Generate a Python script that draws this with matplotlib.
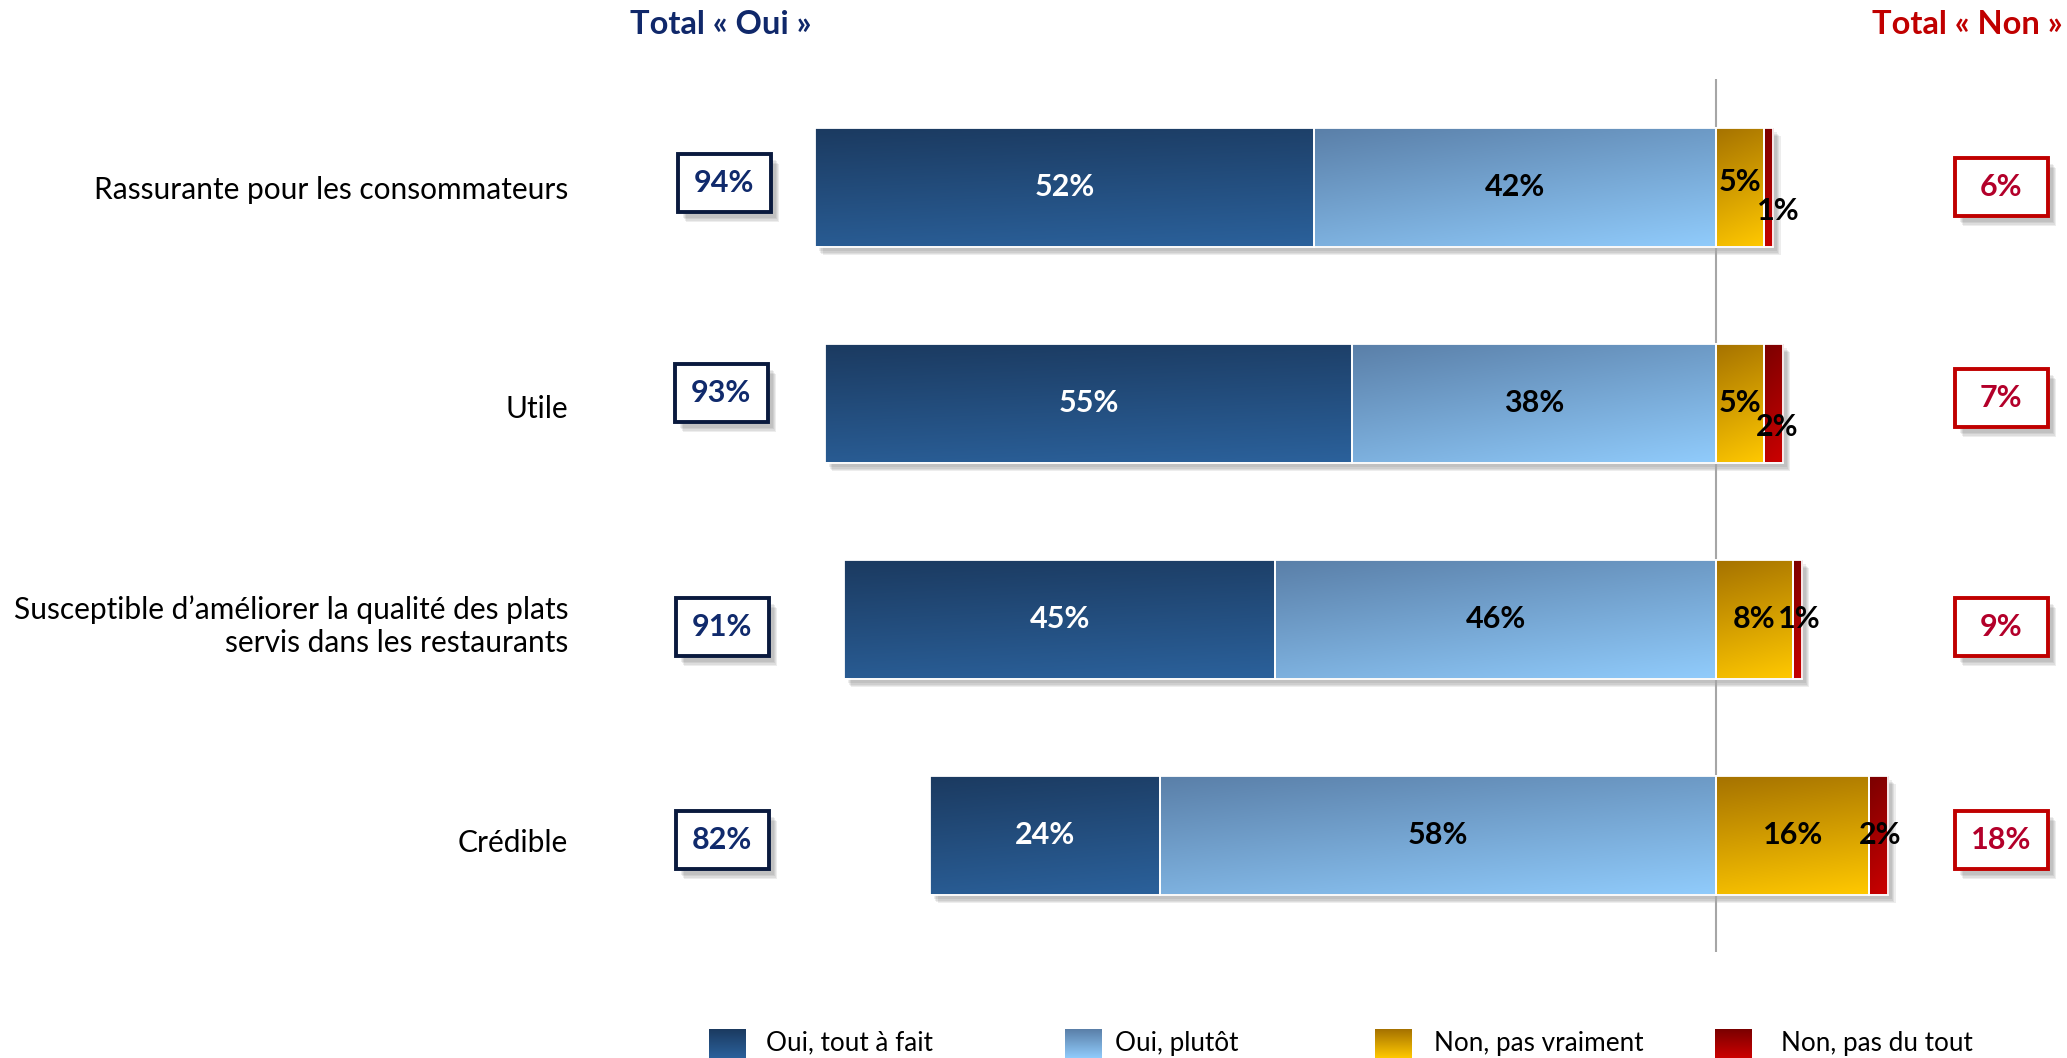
import numpy as np
import matplotlib
matplotlib.use("Agg")
import matplotlib.pyplot as plt
from matplotlib.patches import Rectangle
from matplotlib.colors import to_rgb

plt.rcParams['font.family'] = ['Lato', 'DejaVu Sans']

# ---------------- data ----------------
categories = ["Rassurante pour les consommateurs",
              "Utile",
              "Susceptible d\u2019améliorer la qualité des plats\nservis dans les restaurants",
              "Crédible"]
oui_tout = [52, 55, 45, 24]
oui_plutot = [42, 38, 46, 58]
non_pas_vraiment = [5, 5, 8, 16]
non_pas_du_tout = [1, 2, 1, 2]
total_oui = [94, 93, 91, 82]
total_non = [6, 7, 9, 18]
legend_labels = ["Oui, tout à fait", "Oui, plutôt", "Non, pas vraiment", "Non, pas du tout"]

# ---------------- style ----------------
W, H = 2067, 1058
DPI = 100
PX = 9.58            # pixels per percent
X0 = 1716            # pixel x of zero line
ROW0, ROWSTEP = 187, 216
BAR_H = 119 / ROWSTEP

grad = {
    "dark":  ("#1b3a60", "#2b619b"),
    "light": ("#5a7fa8", "#90cbfb"),
    "orange": ("#a57200", "#ffc800"),
    "red":   ("#7a0000", "#cc0000"),
}

fig = plt.figure(figsize=(W / DPI, H / DPI), dpi=DPI)
ax = fig.add_axes([0, 0, 1, 1])
ax.set_axis_off()
xlim = (-X0 / PX, (W - X0) / PX)
ylim = ((H - ROW0) / ROWSTEP, -ROW0 / ROWSTEP)


def grad_img(c_top, c_bot, diag=0.3, n=64):
    a = np.array(to_rgb(c_top))
    b = np.array(to_rgb(c_bot))
    v = np.linspace(0, 1, n)[:, None]
    u = np.linspace(0, 1, n)[None, :]
    t = np.clip((1 - diag) * v + diag * u, 0, 1)
    return a[None, None, :] * (1 - t[..., None]) + b[None, None, :] * t[..., None]


def gbar(axx, left, width, yc, h, key, z=3, diag=0.3):
    img = grad_img(*grad[key], diag=diag)
    im = axx.imshow(img, extent=(left, left + width, yc + h / 2, yc - h / 2),
                    aspect='auto', zorder=z, interpolation='bilinear')
    r = Rectangle((left, yc - h / 2), width, h, facecolor='none',
                  edgecolor='white', lw=1.3, zorder=z + 0.1)
    axx.add_patch(r)
    im.set_clip_path(r)


sx, sy = 6 / PX, 8 / ROWSTEP
FS = 22

for i in range(len(categories)):
    segs = [(-total_oui[i], oui_tout[i], "dark"),
            (-total_oui[i] + oui_tout[i], oui_plutot[i], "light"),
            (0, non_pas_vraiment[i], "orange"),
            (non_pas_vraiment[i], non_pas_du_tout[i], "red")]
    tot_w = total_oui[i] + total_non[i]
    # shadow
    for k in range(4):
        e = k * 1.2
        ax.add_patch(Rectangle((-total_oui[i] + sx * 0.6 + e / PX, i - BAR_H / 2 + sy * 0.6 + e / ROWSTEP),
                               tot_w, BAR_H, facecolor='#404040', edgecolor='none',
                               alpha=0.09, zorder=1))
    for left, w, key in segs:
        gbar(ax, left, w, i, BAR_H, key, z=3, diag=0.35 if key == "light" else 0.15)

    # value labels
    ax.text(-total_oui[i] + oui_tout[i] / 2, i, f"{oui_tout[i]}%", color='white',
            fontsize=FS, fontweight='bold', ha='center', va='center', zorder=6)
    ax.text(-oui_plutot[i] / 2, i, f"{oui_plutot[i]}%", color='black',
            fontsize=FS, fontweight='bold', ha='center', va='center', zorder=6)

ax.set_xlim(*xlim)
ax.set_ylim(*ylim)

# small segment labels (pixel offsets relative to their segments; +y is up)
off_pv = [(0, 5), (0, 0), (0, 0), (0, 0)]
off_pdt = [(10, -24), (4, -24), (2, 0), (1, 0)]
for i in range(len(categories)):
    xc = non_pas_vraiment[i] / 2
    ax.annotate(f"{non_pas_vraiment[i]}%", (xc, i), xytext=off_pv[i], textcoords='offset pixels',
                fontsize=FS, fontweight='bold', ha='center', va='center', zorder=6)
    xc2 = non_pas_vraiment[i] + non_pas_du_tout[i] / 2
    ax.annotate(f"{non_pas_du_tout[i]}%", (xc2, i), xytext=off_pdt[i], textcoords='offset pixels',
                fontsize=FS, fontweight='bold', ha='center', va='center', zorder=6)

# zero line
ax.plot([0, 0], [(79 - ROW0) / ROWSTEP, (952 - ROW0) / ROWSTEP], color='#a6a6a6',
        lw=1.5, zorder=2, solid_capstyle='butt')

# overlay pixel axes for annotations
px = fig.add_axes([0, 0, 1, 1], zorder=5)
px.set_axis_off()
px.set_xlim(0, W)
px.set_ylim(H, 0)
px.patch.set_alpha(0)

# category labels
lab_dy = [3, 6, 7, 8]
for i, c in enumerate(categories):
    px.text(568, ROW0 + ROWSTEP * i + lab_dy[i], c, ha='right', va='center', fontsize=21.5,
            color='black', linespacing=1.2)

# total boxes
oui_y = [183, 393, 627, 840]
non_y = [187, 398, 627, 840]
oui_x = [724, 721, 722, 722]
bw, bh = 93, 58


def box(xc, yc, txt, ec, tc):
    for k in range(4):
        e = k * 1.3
        px.add_patch(Rectangle((xc - bw / 2 + 5 + e, yc - bh / 2 + 6 + e), bw, bh,
                               facecolor='#404040', edgecolor='none', alpha=0.09, zorder=1))
    px.add_patch(Rectangle((xc - bw / 2, yc - bh / 2), bw, bh, facecolor='white',
                           edgecolor=ec, lw=2.8, zorder=3))
    px.text(xc, yc, txt, ha='center', va='center', fontsize=FS, fontweight='bold',
            color=tc, zorder=4)


for i in range(len(categories)):
    box(oui_x[i], oui_y[i], f"{total_oui[i]}%", '#0a1a3e', '#102a6c')
    box(2001, non_y[i], f"{total_non[i]}%", '#c00000', '#b3002a')

# headers
px.text(721, 25, "Total « Oui »", ha='center', va='center', fontsize=23.5,
        fontweight='bold', color='#10286a')
px.text(2063, 25, "Total « Non »", ha='right', va='center', fontsize=23.5,
        fontweight='bold', color='#c00000')

# legend
leg_sq_x = [709, 1065, 1375, 1715]
leg_tx_x = [766, 1115, 1434, 1781]
keys = ["dark", "light", "orange", "red"]
for k in range(4):
    img = grad_img(*grad[keys[k]], diag=0.0)
    px.imshow(img, extent=(leg_sq_x[k], leg_sq_x[k] + 37, 1058, 1029), aspect='auto',
              zorder=3, interpolation='bilinear')
    px.text(leg_tx_x[k], 1043, legend_labels[k], ha='left', va='center', fontsize=18.8,
            color='black')
px.set_xlim(0, W)
px.set_ylim(H, 0)

fig.savefig("out.png", dpi=DPI, facecolor='white')
